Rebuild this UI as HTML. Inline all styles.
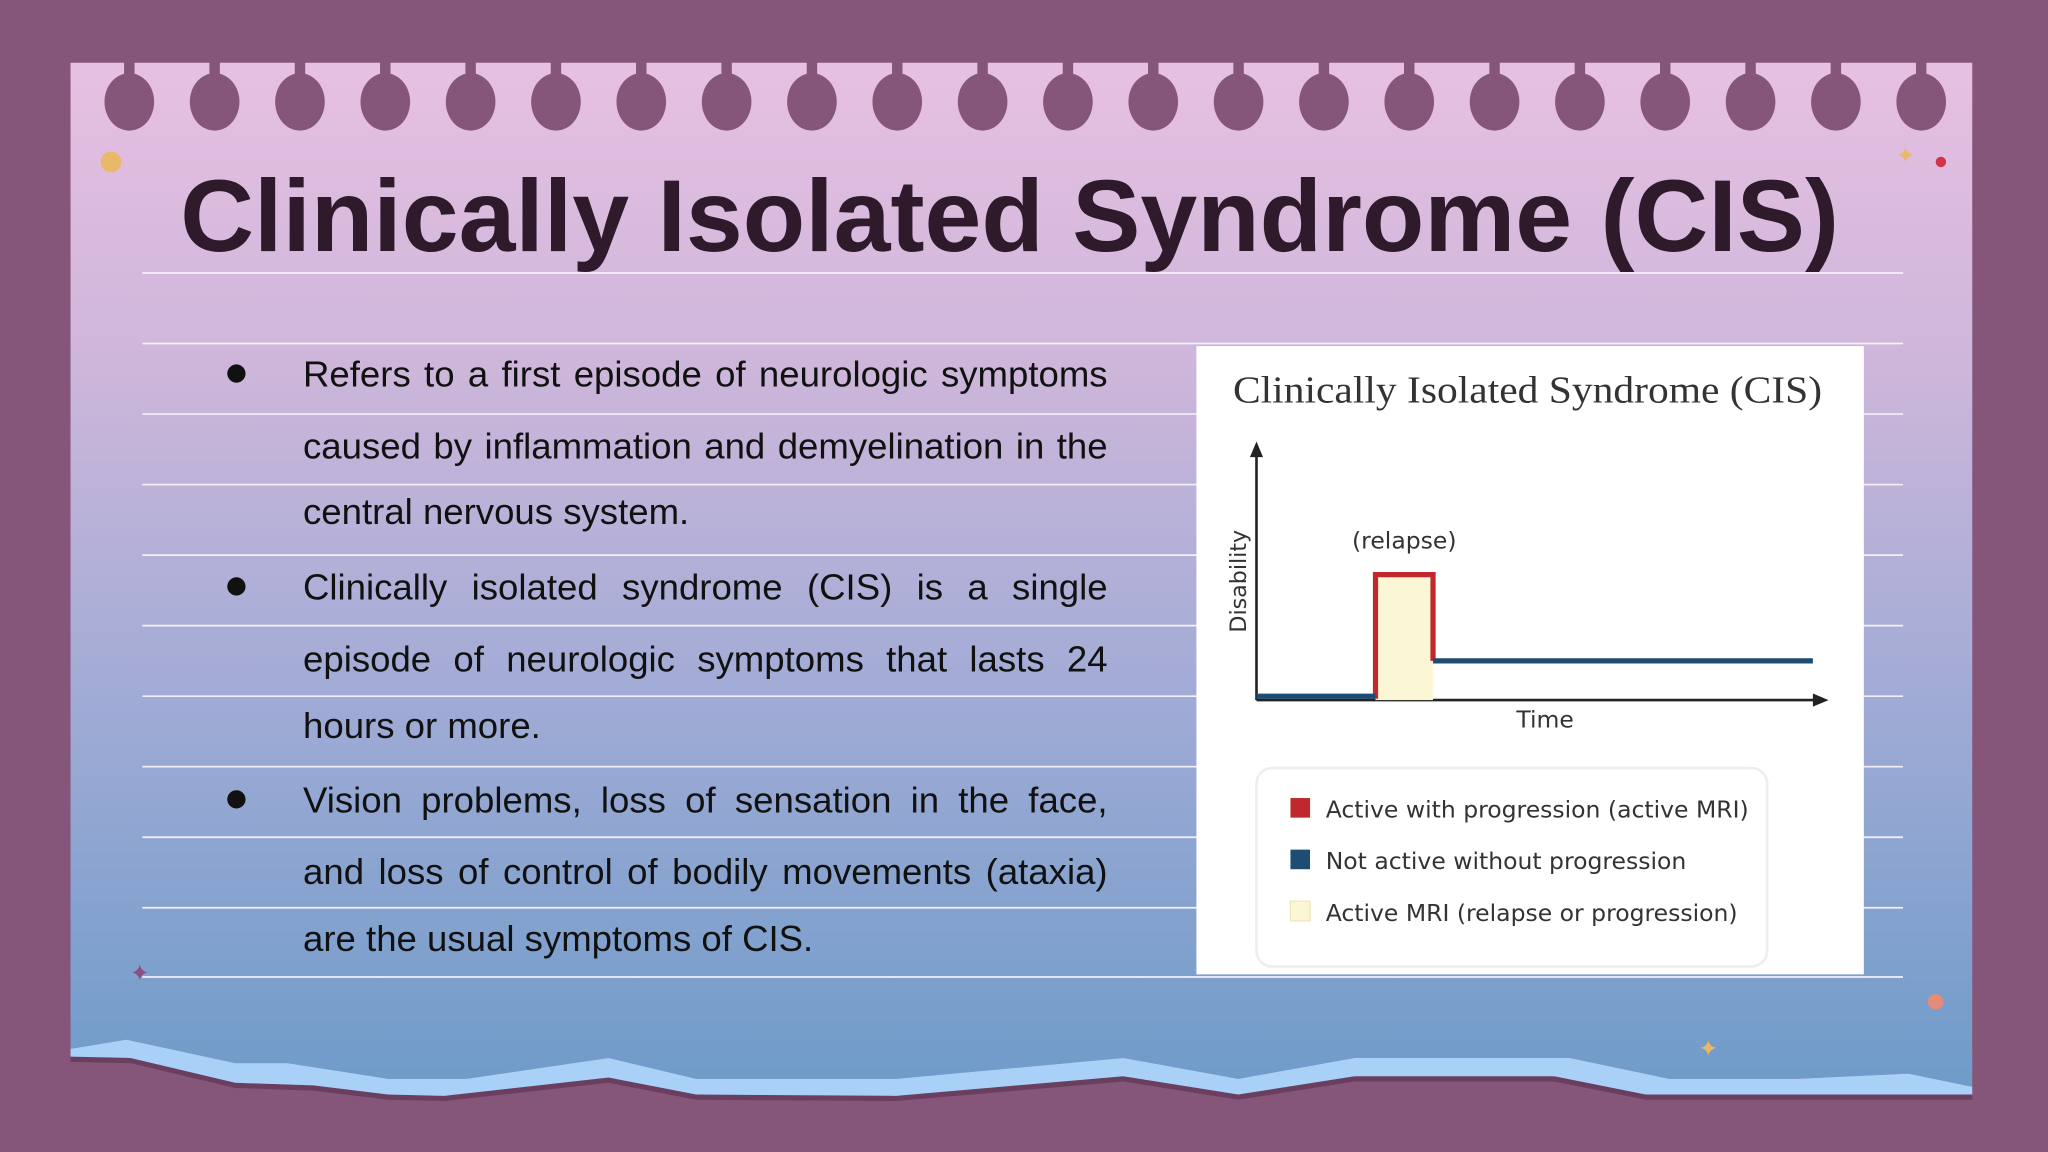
<!DOCTYPE html>
<html><head><meta charset="utf-8"><style>
html,body{margin:0;padding:0;background:#86557a;}
svg{display:block;}
.ln{position:absolute;left:0;width:616px;font-family:"Liberation Sans",sans-serif;font-size:28px;color:#111;white-space:nowrap;line-height:32px;}
.j{text-align:justify;text-align-last:justify;}
</style></head><body>
<svg id="slide" width="2048" height="1152" viewBox="0 0 1568 882" xmlns="http://www.w3.org/2000/svg">
<defs>
<linearGradient id="paperGrad" x1="0" y1="0" x2="0" y2="1">
<stop offset="0" stop-color="#e7c0e2"/>
<stop offset="0.3" stop-color="#cdb6da"/>
<stop offset="0.6" stop-color="#a3acd6"/>
<stop offset="1" stop-color="#6f9bc9"/>
</linearGradient>
</defs>
<rect width="1568" height="882" fill="#86557a"/>
<path fill="url(#paperGrad)" d="M54,48 L1510,48 L1510,832 L1461,822 L1375,826 L1278,826 L1202,810 L1037,810 L948,826 L860,810 L686,826 L533,826 L466,810 L357,826 L297,826 L220,814 L180,814 L97,796 L54,803 Z"/>
<path fill="#5e3552" opacity="0.7" d="M54,809 L100,810 L180,829 L240,831 L297,838 L340,839 L466,825 L533,838 L686,839 L860,824 L948,838 L1037,824 L1190,824 L1260,838 L1510,838 L1510,842 L1260,842 L1190,828 L1037,828 L948,842 L860,828 L686,843 L533,842 L466,829 L340,843 L297,842 L240,835 L180,833 L100,814 L54,813 Z"/>
<path fill="#a9d0f7" d="M54,803 L97,796 L180,814 L220,814 L297,826 L357,826 L466,810 L533,826 L686,826 L860,810 L948,826 L1037,810 L1202,810 L1278,826 L1375,826 L1461,822 L1510,832 L1510,838 L1260,838 L1190,824 L1037,824 L948,838 L860,824 L686,839 L533,838 L466,825 L340,839 L297,838 L240,831 L180,829 L100,810 L54,809 Z"/>
<g id="holes"></g>
<circle cx="85" cy="124" r="8" fill="#e9b86a"/>
<circle cx="1486" cy="124" r="4" fill="#d2334a"/>
<circle cx="1482" cy="767" r="6" fill="#e48b7a"/>
<text x="1459" y="125" font-size="18" fill="#e9b86a" text-anchor="middle" font-family="DejaVu Sans">✦</text>
<text x="107" y="751" font-size="18" fill="#8b4f80" text-anchor="middle" font-family="DejaVu Sans">✦</text>
<text x="1308" y="809" font-size="18" fill="#e9b86a" text-anchor="middle" font-family="DejaVu Sans">✦</text>
<text x="138" y="192" font-family="Liberation Sans, sans-serif" font-weight="bold" font-size="78" fill="#2e1a2b" textLength="1270" lengthAdjust="spacingAndGlyphs">Clinically Isolated Syndrome (CIS)</text>
<g id="rules"></g>
<g id="bullets"></g>
<foreignObject x="232" y="260" width="640" height="500">
<div xmlns="http://www.w3.org/1999/xhtml" id="bodyhtml" style="position:relative;width:640px;height:500px;"></div>
</foreignObject>
<g id="chart"></g>
</svg>
<script>
const NS='http://www.w3.org/2000/svg';
function mk(tag,attrs,parent){const e=document.createElementNS(NS,tag);for(const k in attrs)e.setAttribute(k,attrs[k]);parent.appendChild(e);return e;}
const holes=document.getElementById('holes');
for(let i=0;i<22;i++){const cx=99+i*65.33;
const s=mk('rect',{x:cx-4,y:47,width:8,height:20,fill:'#86557a'},holes);


const h=mk('ellipse',{cx:cx,cy:78,rx:19,ry:22,fill:'#86557a'},holes);

}
const rules=document.getElementById('rules');
const ruleYs=[209,263,317,371,425,479,533,587,641,695,748];
ruleYs.forEach(y=>{const l=mk('line',{x1:109,x2:1457,y1:y,y2:y,stroke:'#f4f0fa','stroke-width':1.3},rules);

});
const bodyDiv=document.getElementById('bodyhtml');
const bullets=document.getElementById('bullets');
const lines=[
['Refers to a first episode of neurologic symptoms',296,true,true],
['caused by inflammation and demyelination in the',351,true,false],
['central nervous system.',401,false,false],
['Clinically isolated syndrome (CIS) is a single',459,true,true],
['episode of neurologic symptoms that lasts 24',514,true,false],
['hours or more.',565,false,false],
['Vision problems, loss of sensation in the face,',622,true,true],
['and loss of control of bodily movements (ataxia)',677,true,false],
['are the usual symptoms of CIS.',728,false,false]];
lines.forEach(l=>{const d=document.createElement('div');
d.className='ln'+(l[2]?' j':'');
d.style.top=(l[1]-260-25)+'px';
d.textContent=l[0];


bodyDiv.appendChild(d);
if(l[3]){const b=mk('circle',{cx:181,cy:l[1]-10,r:7,fill:'#111'},bullets);

}});
// ---- chart data ----
const relapseTime=[0.209,0.31];
const relapseLevel=[0.49];
const notActiveStart=[0,0.31];
const notActiveEnd=[0.209,0.977];
const notActiveLevel=[0.015,0.153];
const legendLabels=['Active with progression (active MRI)','Not active without progression','Active MRI (relapse or progression)'];
const legendColors=['#c0282e','#1d4d72','#fbf7d4'];
const ox=962,oy=536,w=436,h=196;
const X=v=>ox+v*w, Y=v=>oy-v*h;
const chart=document.getElementById('chart');
const bg=mk('rect',{x:916,y:265,width:511,height:481,fill:'#ffffff'},chart);


const ti=mk('text',{x:944,y:308,'font-family':'Liberation Serif, serif','font-size':29,fill:'#333',textLength:451,lengthAdjust:'spacingAndGlyphs'},chart);
ti.textContent='Clinically Isolated Syndrome (CIS)';


const ya=mk('line',{x1:ox,y1:oy,x2:ox,y2:346,stroke:'#222','stroke-width':2},chart);


const yh=mk('path',{d:'M957,350 L962,338 L967,350 Z',fill:'#222'},chart);


const xa=mk('line',{x1:ox,y1:oy,x2:1392,y2:oy,stroke:'#222','stroke-width':2},chart);


const xh=mk('path',{d:'M1388,531 L1400,536 L1388,541 Z',fill:'#222'},chart);


const yt=mk('text',{x:0,y:0,transform:'translate(954,445) rotate(-90)','text-anchor':'middle','font-family':'DejaVu Sans, sans-serif','font-size':17,fill:'#333'},chart);
yt.textContent='Disability';


const xt=mk('text',{x:1183,y:557,'text-anchor':'middle','font-family':'DejaVu Sans, sans-serif','font-size':18,fill:'#333'},chart);
xt.textContent='Time';


const rx0=X(relapseTime[0]),rx1=X(relapseTime[1]),ry=Y(relapseLevel[0]);
const rf=mk('rect',{x:rx0,y:ry,width:rx1-rx0,height:oy-ry,fill:legendColors[2]},chart);


const rp=mk('path',{d:`M${rx0},${oy-1} L${rx0},${ry} L${rx1},${ry} L${rx1},${Y(notActiveLevel[1])}`,fill:'none',stroke:legendColors[0],'stroke-width':4},chart);


const rl=mk('text',{x:(rx0+rx1)/2,y:ry-20,'text-anchor':'middle','font-family':'DejaVu Sans, sans-serif','font-size':18,fill:'#333'},chart);
rl.textContent='(relapse)';


notActiveStart.forEach((s,i)=>{const ln=mk('line',{x1:X(s),x2:X(notActiveEnd[i]),y1:Y(notActiveLevel[i]),y2:Y(notActiveLevel[i]),stroke:legendColors[1],'stroke-width':4},chart);

});
const lb=mk('rect',{x:962,y:588,width:391,height:152,rx:12,fill:'#fff',stroke:'#eeeeee','stroke-width':2},chart);


legendLabels.forEach((lab,i)=>{const y=619+i*39.5;
const sq=mk('rect',{x:988,y:y-8,width:15,height:15,fill:legendColors[i],stroke:i==2?'#eee8b8':'none'},chart);


const t=mk('text',{x:1015,y:y+7,'font-family':'DejaVu Sans, sans-serif','font-size':18,fill:'#333'},chart);
t.textContent=lab;

});
</script>
</body></html>
